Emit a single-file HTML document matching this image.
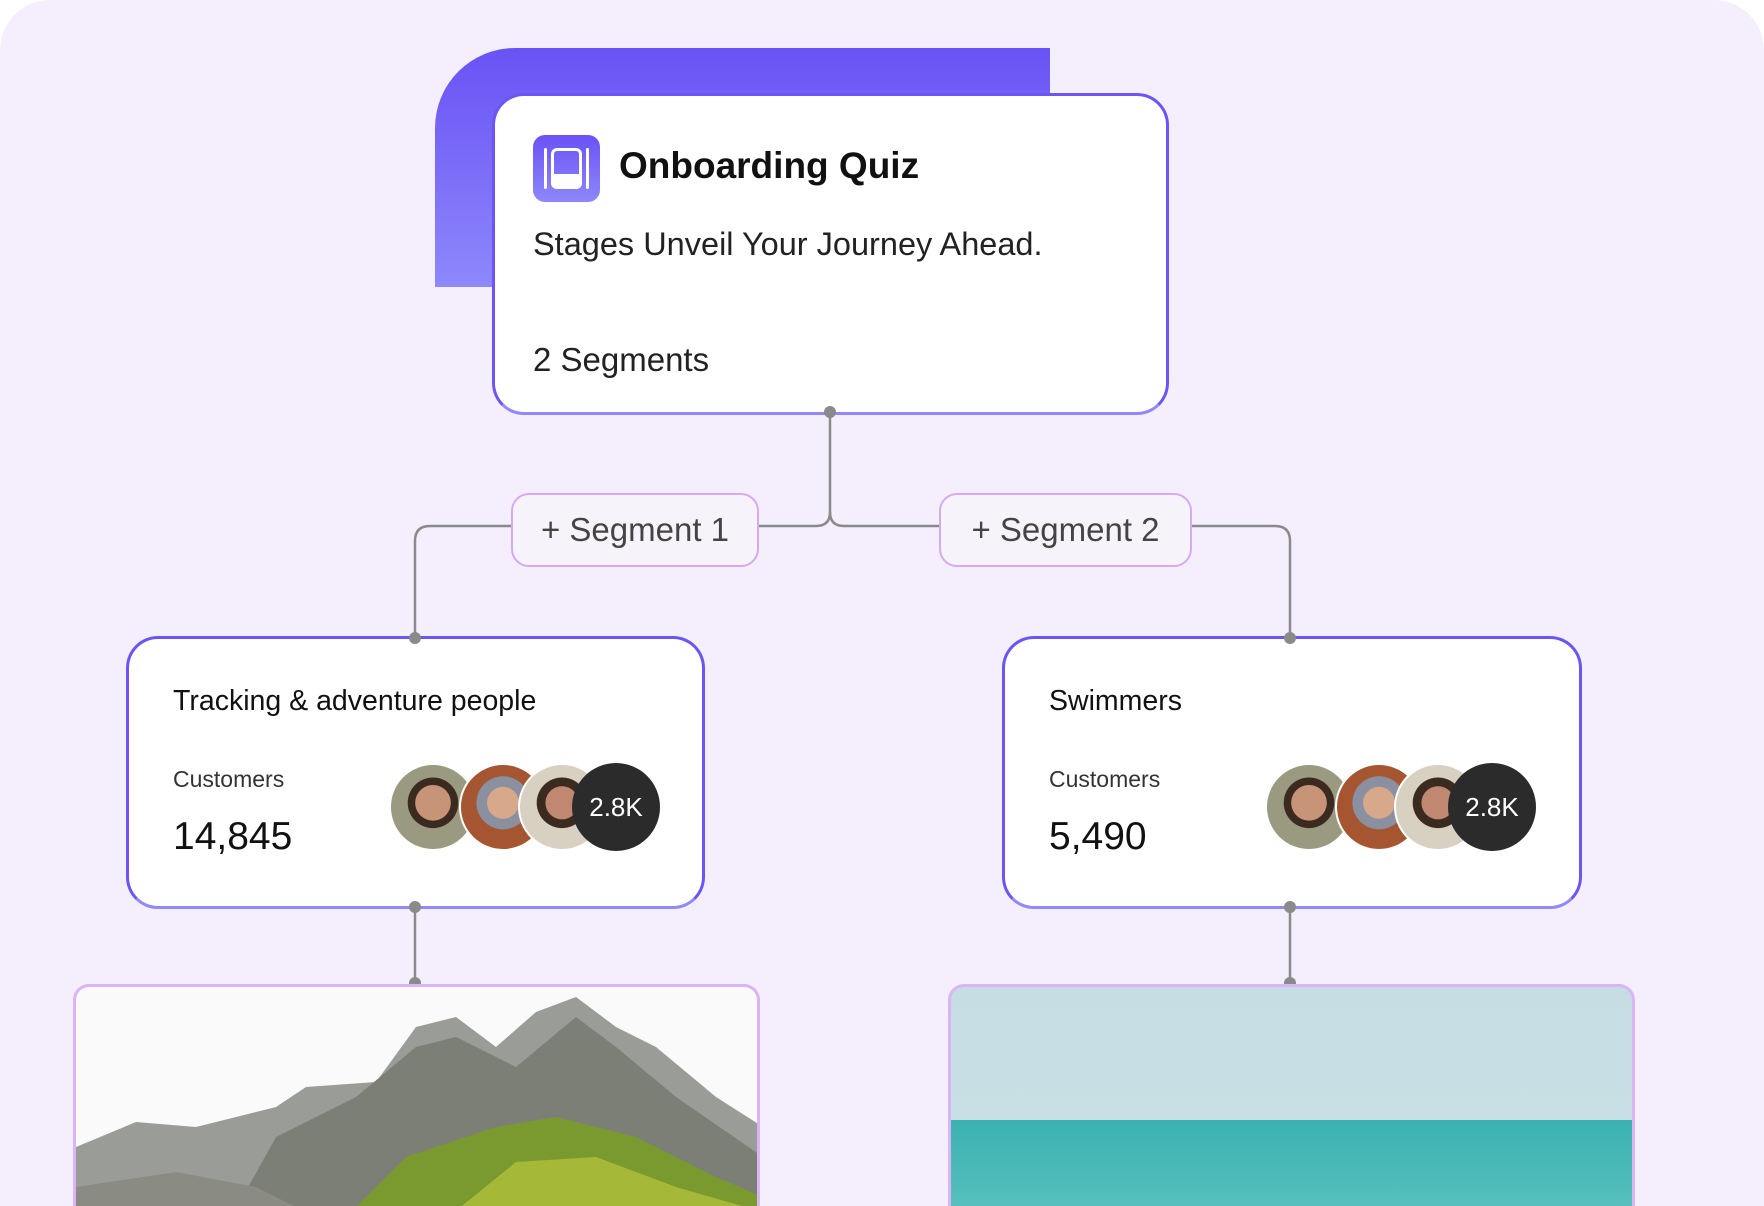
<!DOCTYPE html>
<html style="width:1764px;height:1206px;overflow:hidden"><head><meta charset="utf-8"><style>
*{margin:0;padding:0;box-sizing:border-box}
body{width:1764px;height:1206px;background:#fff;position:relative;overflow:hidden;font-family:"Liberation Sans",sans-serif;color:#111}
.bg{position:absolute;left:0;top:0;width:1764px;height:1206px;background:#f5effd;border-radius:50px 50px 0 0}
.abs{position:absolute}
.tab{left:435px;top:48px;width:615px;height:239px;border-radius:80px 0 0 0;background:linear-gradient(#6a52f5,#8d88fb)}
.card{background:#fff;border:3px solid #6b55f5;border-bottom-color:#9089fb;border-radius:32px}
.pill{background:#f7f3fa;border:2.5px solid #d6a9f3;border-radius:18px;font-size:33px;color:#444;display:flex;align-items:center;justify-content:center}
.dot{position:absolute;width:12px;height:12px;border-radius:50%;background:#8a8a8a}
.av{position:absolute;width:88px;height:88px;border-radius:50%;overflow:hidden;border:2px solid #fff}
</style></head><body>
<div class="bg"></div>
<div class="abs tab"></div>
<svg class="abs" style="left:0;top:0" width="1764" height="1206">
<g fill="none" stroke="#8a8a8a" stroke-width="2.5">
<path d="M830 412 V512 Q830 526 816 526 H430 Q415 526 415 541 V638"/>
<path d="M830 512 Q830 526 844 526 H1275 Q1290 526 1290 541 V638"/>
<path d="M415 907 V982"/><path d="M1290 907 V982"/>
</g></svg>
<div class="abs card" style="left:492px;top:93px;width:677px;height:322px"></div>
<div class="abs" style="left:533px;top:135px;width:67px;height:67px;border-radius:12px;background:linear-gradient(#6a52f5,#8d88fb)">
<div class="abs" style="left:11px;top:13px;width:3px;height:41px;background:#fff;border-radius:2px"></div>
<div class="abs" style="left:53px;top:13px;width:3px;height:41px;background:#fff;border-radius:2px"></div>
<div class="abs" style="left:18px;top:13px;width:31px;height:41px;border:3px solid #fff;border-radius:6px"></div>
<div class="abs" style="left:18px;top:39px;width:31px;height:15px;background:#fff;border-radius:0 0 6px 6px"></div>
</div>
<div class="abs" style="left:619px;top:145px;font-size:37px;font-weight:bold">Onboarding Quiz</div>
<div class="abs" style="left:533px;top:226px;font-size:32.5px;color:#222">Stages Unveil Your Journey Ahead.</div>
<div class="abs" style="left:533px;top:341px;font-size:33px;color:#222">2 Segments</div>
<div class="dot" style="left:824px;top:406px"></div>
<div class="abs pill" style="left:511px;top:493px;width:248px;height:74px">+ Segment 1</div>
<div class="abs pill" style="left:939px;top:493px;width:253px;height:74px">+ Segment 2</div>

<div class="abs card" style="left:126px;top:636px;width:579px;height:273px"></div>
<div class="abs card" style="left:1002px;top:636px;width:580px;height:273px"></div>
<div class="abs" style="left:173px;top:685px;font-size:28.5px">Tracking &amp; adventure people</div>
<div class="abs" style="left:173px;top:766px;font-size:23px;color:#333">Customers</div>
<div class="abs" style="left:173px;top:815px;font-size:39px">14,845</div>
<div class="abs" style="left:1049px;top:685px;font-size:28.5px">Swimmers</div>
<div class="abs" style="left:1049px;top:766px;font-size:23px;color:#333">Customers</div>
<div class="abs" style="left:1049px;top:815px;font-size:39px">5,490</div>
<div class="dot" style="left:409px;top:632px"></div><div class="dot" style="left:1284px;top:632px"></div>
<div class="dot" style="left:409px;top:901px"></div><div class="dot" style="left:1284px;top:901px"></div>
<div class="dot" style="left:409px;top:977px"></div><div class="dot" style="left:1284px;top:977px"></div>

<div class="av" style="left:389px;top:763px;background:radial-gradient(circle at 50% 45%,#c89478 0 28%,#3a2a20 29% 40%,#9a9a80 41%)"></div>
<div class="av" style="left:459px;top:763px;background:radial-gradient(circle at 50% 45%,#d8a88a 0 25%,#8a90a0 26% 42%,#a55530 43%)"></div>
<div class="av" style="left:518px;top:763px;background:radial-gradient(circle at 50% 45%,#c08870 0 26%,#3a2a20 27% 40%,#d8d0c0 41%)"></div>
<div class="abs" style="left:572px;top:763px;width:88px;height:88px;border-radius:50%;background:#2b2b2b;color:#fff;font-size:26px;display:flex;align-items:center;justify-content:center">2.8K</div>
<div class="av" style="left:1265px;top:763px;background:radial-gradient(circle at 50% 45%,#c89478 0 28%,#3a2a20 29% 40%,#9a9a80 41%)"></div>
<div class="av" style="left:1335px;top:763px;background:radial-gradient(circle at 50% 45%,#d8a88a 0 25%,#8a90a0 26% 42%,#a55530 43%)"></div>
<div class="av" style="left:1394px;top:763px;background:radial-gradient(circle at 50% 45%,#c08870 0 26%,#3a2a20 27% 40%,#d8d0c0 41%)"></div>
<div class="abs" style="left:1448px;top:763px;width:88px;height:88px;border-radius:50%;background:#2b2b2b;color:#fff;font-size:26px;display:flex;align-items:center;justify-content:center">2.8K</div>

<div class="abs" style="left:73px;top:984px;width:687px;height:222px;border:3px solid #d9b5f5;border-bottom:none;border-radius:16px 16px 0 0;overflow:hidden;background:#fafafa">
<svg width="687" height="222" style="display:block">
<polygon points="0,160 60,135 120,140 200,120 230,100 300,95 340,40 380,30 420,60 460,25 500,10 540,40 580,60 640,110 687,140 687,240 0,240" fill="#9a9c98"/>
<polygon points="200,150 280,110 340,60 380,50 440,80 500,30 540,60 600,110 687,170 687,240 150,240" fill="#7c7f75"/>
<polygon points="260,240 330,170 420,140 480,130 560,150 640,190 687,210 687,240" fill="#7a9a30"/>
<polygon points="0,200 100,185 180,200 260,240 0,240" fill="#8a8b82"/>
<polygon points="360,240 440,175 520,170 600,200 687,225 687,240" fill="#a5b838"/>
</svg></div>
<div class="abs" style="left:948px;top:984px;width:687px;height:222px;border:3px solid #d9b5f5;border-bottom:none;border-radius:16px 16px 0 0;overflow:hidden;background:linear-gradient(#c6dde3,#c9e2e6)">
<div class="abs" style="left:0;top:133px;width:687px;height:110px;background:linear-gradient(#3ab2b2,#5ec3bf)"></div>
</div>
</body></html>
